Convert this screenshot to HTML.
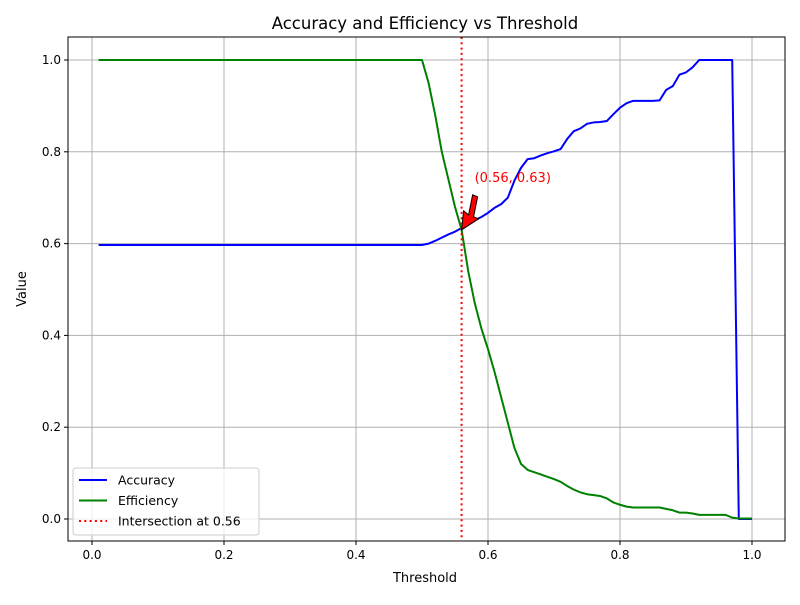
<!DOCTYPE html>
<html><head><meta charset="utf-8"><style>
body{margin:0;background:#fff;}
svg text{font-family:"DejaVu Sans","Liberation Sans",sans-serif;}
</style></head><body>
<svg id="chart" width="800" height="600" xmlns="http://www.w3.org/2000/svg"></svg>
<script>
const thresholds = Array.from({length:100},(_,i)=>+((i+1)/100).toFixed(2));
const accTail = [0.600,0.606,0.613,0.620,0.626,0.634,0.645,0.651,0.658,0.667,0.678,0.686,0.700,0.737,0.765,0.784,0.786,0.792,0.797,0.801,0.806,0.828,0.845,0.851,0.861,0.864,0.865,0.867,0.882,0.896,0.906,0.911,0.911,0.911,0.911,0.912,0.935,0.943,0.968,0.973,0.984,1,1,1,1,1,1,0,0,0];
const effTail = [0.95,0.88,0.80,0.74,0.68,0.63,0.54,0.47,0.415,0.37,0.32,0.265,0.21,0.155,0.12,0.107,0.102,0.097,0.092,0.087,0.081,0.072,0.064,0.058,0.054,0.052,0.050,0.045,0.036,0.031,0.027,0.025,0.025,0.025,0.025,0.025,0.022,0.019,0.014,0.014,0.012,0.009,0.009,0.009,0.009,0.009,0.003,0.001,0.001,0.001];
const accuracy = Array(50).fill(0.597).concat(accTail);
const efficiency = Array(50).fill(1.0).concat(effTail);
const intersectX = 0.56, intersectY = 0.63;
const xTicks = [0,0.2,0.4,0.6,0.8,1.0];
const yTicks = [0,0.2,0.4,0.6,0.8,1.0];

const NS="http://www.w3.org/2000/svg";
const svg=document.getElementById('chart');
const L=68,R=785,T=37,B=541;
const sx=v=>92+v*660, sy=v=>519-v*459;
function mk(tag,attrs,parent){const e=document.createElementNS(NS,tag);for(const k in attrs)e.setAttribute(k,attrs[k]);(parent||svg).appendChild(e);return e;}

let e;
e=mk('text',{x:425,y:29,'text-anchor':'middle','font-size':16.5});e.textContent='Accuracy and Efficiency vs Threshold';



xTicks.forEach(t=>{
  e=mk('line',{x1:sx(t),x2:sx(t),y1:T,y2:B,stroke:'#b0b0b0','stroke-width':1});
  
  
  mk('line',{x1:sx(t),x2:sx(t),y1:B,y2:B+4,stroke:'#000'});
  e=mk('text',{x:sx(t),y:B+18,'text-anchor':'middle','font-size':12});e.textContent=t.toFixed(1);
  
  
});
yTicks.forEach(t=>{
  e=mk('line',{x1:L,x2:R,y1:sy(t),y2:sy(t),stroke:'#b0b0b0','stroke-width':1});
  
  
  mk('line',{x1:L-4,x2:L,y1:sy(t),y2:sy(t),stroke:'#000'});
  e=mk('text',{x:L-7,y:sy(t)+4,'text-anchor':'end','font-size':12});e.textContent=t.toFixed(1);
  
  
});
e=mk('text',{x:425,y:582,'text-anchor':'middle','font-size':13});e.textContent='Threshold';


e=mk('text',{x:26,y:289,'text-anchor':'middle','font-size':13,transform:'rotate(-90 26 289)'});e.textContent='Value';



function line(vals,color,name){
  const p=mk('polyline',{points:thresholds.map((t,i)=>sx(t)+','+sy(vals[i])).join(' '),fill:'none',stroke:color,'stroke-width':2,'stroke-linejoin':'round'});
  
  
}
line(accuracy,'#0000ff','accuracy-line');
line(efficiency,'#008000','efficiency-line');

e=mk('line',{x1:sx(intersectX),x2:sx(intersectX),y1:T,y2:B,stroke:'#ff0000','stroke-width':2,'stroke-dasharray':'2,3.3'});



const ax=sx(intersectX),ay=sy(intersectY);
e=mk('polygon',{points:`${ax},${ay} ${ax+2},${ay-19} ${ax+7},${ay-15} ${ax+11},${ay-35} ${ax+16},${ay-33} ${ax+12},${ay-13} ${ax+17},${ay-11}`,fill:'#ff0000',stroke:'#000','stroke-width':1});


e=mk('text',{x:ax+13,y:ay-48,'font-size':13,fill:'#ff0000'});e.textContent='(0.56, 0.63)';



mk('rect',{x:L,y:T,width:R-L,height:B-T,fill:'none',stroke:'#000','stroke-width':1});

const lg=mk('g',{});


mk('rect',{x:73,y:468,width:186,height:67,rx:3,fill:'#fff','fill-opacity':0.8,stroke:'#ccc'},lg);
[['Accuracy','#0000ff',null],['Efficiency','#008000',null],['Intersection at 0.56','#ff0000','2,3.3']].forEach((d,i)=>{
  const y=480+i*20.5;
  const a={x1:79,x2:107,y1:y,y2:y,stroke:d[1],'stroke-width':2};if(d[2])a['stroke-dasharray']=d[2];
  mk('line',a,lg);
  const t=mk('text',{x:118,y:y+4.5,'font-size':12.5},lg);t.textContent=d[0];
  
  
});
</script>
</body></html>
